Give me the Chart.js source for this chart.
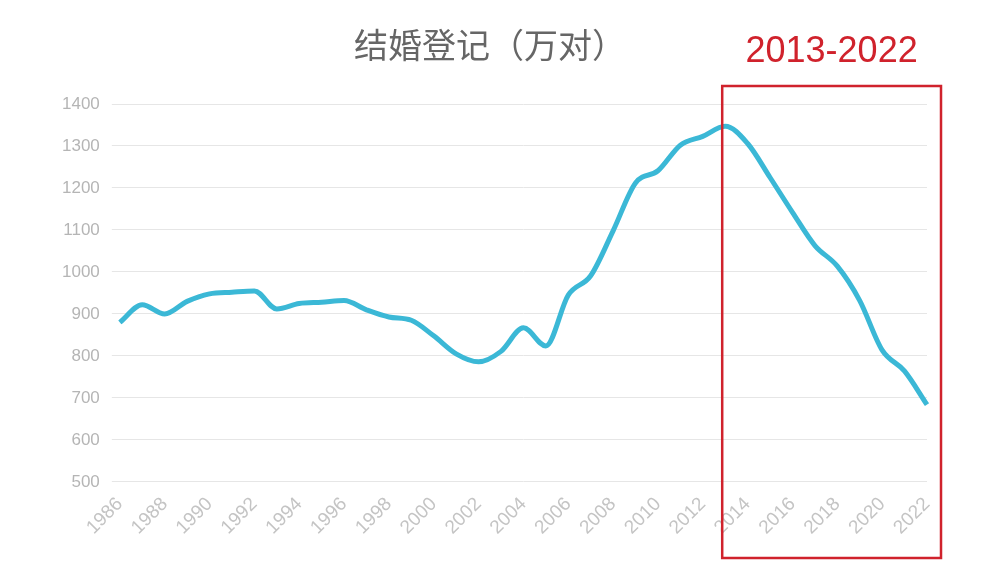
<!DOCTYPE html>
<html><head><meta charset="utf-8">
<script src="https://cdn.jsdelivr.net/npm/chart.js@4"></script>
<style>html,body{margin:0;background:#fff}#w{width:1008px;height:568px}</style>
</head><body><div id="w"><canvas id="c"></canvas></div>
<script>
const years=['1986','1987','1988','1989','1990','1991','1992','1993','1994','1995','1996','1997','1998','1999','2000','2001','2002','2003','2004','2005','2006','2007','2008','2009','2010','2011','2012','2013','2014','2015','2016','2017','2018','2019','2020','2021','2022'];
const marriages=[880,922,900,930,948,952,955,912,925,928,932,910,893,885,848,805,786,811,867,824,945,991,1098,1212,1241,1302,1323,1347,1306,1225,1142,1063,1014,932,814,764,684];
const yTicks=[500,600,700,800,900,1000,1100,1200,1300,1400];
const boxLabel='2013-2022';
const boxStart='2013', boxEnd='2022';
const overlay={id:'ov',afterDraw(ch){
 const c=ch.ctx,x=ch.scales.x;
 c.save();
 c.fillStyle='#666';c.font='34px "Noto Sans CJK SC"';c.textAlign='center';c.textBaseline='middle';
 c.fillText('结婚登记（万对）',490,45);
 const l=x.getPixelForValue(years.indexOf(boxStart))-3, r=x.getPixelForValue(years.indexOf(boxEnd))+14;
 c.strokeStyle='#d0222c';c.lineWidth=2.5;c.strokeRect(l,86,r-l,472);
 c.fillStyle='#d0222c';c.font='36px "Liberation Sans"';
 c.fillText(boxLabel,(l+r)/2,52);
 c.restore();}};
new Chart(document.getElementById('c'),{type:'line',
 data:{labels:years,datasets:[{data:marriages,borderColor:'#3bb8d6',borderWidth:5,pointRadius:0,tension:0.4,cubicInterpolationMode:'monotone'}]},
 options:{responsive:true,maintainAspectRatio:false,animation:false,
  layout:{padding:{top:104,left:50,right:81,bottom:26}},
  plugins:{legend:{display:false},tooltip:{enabled:false}},
  scales:{
   x:{offset:false,grid:{display:false},border:{display:false},
     ticks:{color:'#c4c4c4',font:{size:19,family:'Liberation Sans'},maxRotation:45,minRotation:45,autoSkip:false,
       callback:(v,i)=>i%2===0?years[i]:''}},
   y:{min:500,max:1400,grid:{color:'#e6e6e6'},border:{display:false},
     afterBuildTicks:s=>{s.ticks=yTicks.map(v=>({value:v}));},
     ticks:{color:'#b5b5b5',font:{size:17,family:'Liberation Sans'},padding:12,callback:v=>String(v)}}
  }},plugins:[overlay]});
</script></body></html>
